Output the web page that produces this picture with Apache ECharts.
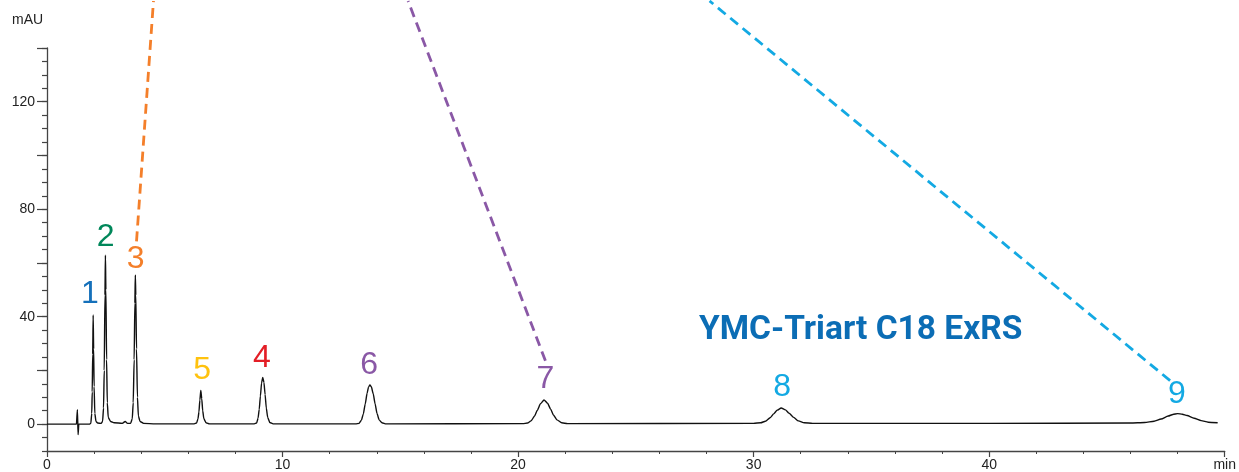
<!DOCTYPE html>
<html>
<head>
<meta charset="utf-8">
<script src="https://cdn.jsdelivr.net/npm/echarts@6/dist/echarts.min.js"></script>
<style>
html,body{margin:0;padding:0;background:#fff;}
#chart{width:1239px;height:472px;}
</style>
</head>
<body>
<div id="chart"></div>
<script>
// ---- Data ----
const traceTime = [
  0.0, 1.25, 1.29, 1.32, 1.35, 1.80, 1.86, 1.90, 1.92, 1.94, 1.96, 1.98, 2.00, 2.03, 2.08, 2.15,
  2.30, 2.36, 2.40, 2.43, 2.46, 2.48, 2.50, 2.53, 2.56, 2.60, 2.70, 2.85,
  3.20, 3.32, 3.42, 3.55, 3.62, 3.66, 3.70, 3.73, 3.75, 3.77, 3.80, 3.84, 3.88, 3.95, 4.10, 4.60,
  6.25, 6.35, 6.41, 6.45, 6.49, 6.53, 6.57, 6.61, 6.66, 6.75, 6.90,
  8.80, 8.90, 8.96, 9.01, 9.06, 9.11, 9.16, 9.21, 9.26, 9.31, 9.37, 9.46, 9.60,
  13.10, 13.25, 13.35, 13.43, 13.51, 13.59, 13.65, 13.71, 13.77, 13.85, 13.93, 14.01, 14.10, 14.22, 14.40,
  20.20, 20.40, 20.55, 20.70, 20.82, 20.95, 21.10, 21.25, 21.38, 21.50, 21.65, 21.85, 22.10,
  30.00, 30.30, 30.50, 30.70, 30.85, 31.00, 31.17, 31.35, 31.50, 31.70, 31.90, 32.15, 32.50,
  40.00, 46.00, 46.60, 47.00, 47.30, 47.60, 47.80, 48.00, 48.20, 48.40, 48.70, 49.00, 49.30, 49.70
];
const traceSignal = [
  0.0, 0.0, 5.4, -3.9, 0.0, 0.0, 0.3, 4.0, 12.0, 26.0, 40.6, 28.0, 14.0, 4.0, 1.0, 0.4,
  0.3, 1.0, 6.0, 20.0, 48.0, 62.9, 50.0, 24.0, 8.0, 2.5, 1.0, 0.5,
  0.3, 1.0, 0.3, 0.3, 2.0, 8.0, 24.0, 45.0, 55.5, 48.0, 28.0, 10.0, 3.0, 1.0, 0.3, 0.1,
  0.1, 0.4, 2.0, 4.5, 9.0, 12.5, 9.5, 5.0, 2.0, 0.5, 0.1,
  0.1, 0.4, 2.2, 5.5, 10.5, 15.3, 17.4, 15.5, 11.0, 6.0, 2.5, 0.6, 0.1,
  0.1, 0.3, 1.5, 3.8, 7.5, 11.5, 13.8, 14.6, 13.9, 11.3, 7.5, 4.0, 1.6, 0.5, 0.1,
  0.2, 0.4, 1.2, 3.0, 5.2, 7.6, 9.0, 7.8, 5.6, 3.4, 1.6, 0.5, 0.2,
  0.3, 0.5, 1.1, 2.4, 3.8, 5.2, 6.0, 5.3, 4.1, 2.5, 1.2, 0.5, 0.3,
  0.3, 0.4, 0.6, 1.1, 1.9, 3.0, 3.6, 3.9, 3.7, 3.2, 2.2, 1.3, 0.7, 0.5
];

const peakNames = ['1', '2', '3', '5', '4', '6', '7', '8', '9'];
const peakLabelTime = [1.82, 2.49, 3.76, 6.59, 9.12, 13.68, 21.16, 31.21, 47.97];
const peakLabelSignal = [48.2, 69.5, 61.5, 19.9, 24.4, 22.1, 16.9, 13.6, 11.3];

// Dashed leader lines: [time, signal] start and end
const leaderOrange = [[3.80, 68.0], [4.52, 157.5]];
const leaderPurple = [[21.16, 23.6], [15.33, 157.5]];
const leaderCyan = [[47.68, 16.2], [28.13, 157.5]];

const xTickValues = [0, 10, 20, 30, 40, 50];
const yLabelValues = [0, 40, 80, 120];
const yMajorTickValues = [0, 20, 40, 60, 80, 100, 120, 140];
const columnName = 'YMC-Triart C18 ExRS';
const yUnit = 'mAU';
const xUnit = 'min';

// ---- Styles ----
const peakColors = ['#1570BA', '#00875A', '#F47F2A', '#FFC20E', '#E31E26', '#8A58A6', '#8A58A6', '#13A9E3', '#13A9E3'];
const axisColor = '#444';

const traceData = traceTime.map((t, i) => [t, traceSignal[i]]);
const labelData = peakNames.map((n, i) => ({
  name: n,
  value: [peakLabelTime[i], peakLabelSignal[i]],
  label: { color: peakColors[i] }
}));

function leader(pts, color) {
  return {
    type: 'line', data: pts, symbol: 'none', clip: false, silent: true,
    lineStyle: { color: color, width: 2.8, type: [10, 6] }, z: 1
  };
}

const chart = echarts.init(document.getElementById('chart'), null, { renderer: 'canvas' });
chart.setOption({
  animation: false,
  backgroundColor: '#fff',
  grid: { left: 47, right: 8, top: 48, bottom: 21, containLabel: false },
  xAxis: {
    type: 'value', min: 0, max: 50, interval: 10,
    axisLine: { onZero: false, lineStyle: { color: axisColor, width: 1.3 } },
    axisTick: { show: true, length: 6, lineStyle: { color: axisColor, width: 1.2 } },
    minorTick: { show: true, splitNumber: 5, length: 3, lineStyle: { color: axisColor, width: 1 } },
    splitLine: { show: false },
    axisLabel: {
      showMaxLabel: true, showMinLabel: true, margin: 7,
      fontFamily: 'Liberation Sans', fontSize: 14, color: '#222',
      formatter: v => (v === 50 ? xUnit : String(v))
    }
  },
  yAxis: [
    {
      type: 'value', min: -10, max: 140, interval: 5, position: 'left',
      axisLine: { show: true, onZero: false, lineStyle: { color: axisColor, width: 1.3 } },
      axisTick: { show: true, length: 5, lineStyle: { color: axisColor, width: 1.2 } },
      splitLine: { show: false },
      axisLabel: {
        customValues: yLabelValues, margin: 12,
        fontFamily: 'Liberation Sans', fontSize: 14, color: '#222'
      }
    },
    {
      type: 'value', min: -10, max: 140, interval: 5, position: 'left',
      axisLine: { show: false },
      axisTick: { show: true, length: 10, customValues: yMajorTickValues, lineStyle: { color: axisColor, width: 1.2 } },
      splitLine: { show: false },
      axisLabel: { show: false }
    }
  ],
  graphic: [
    { type: 'text', left: 12, top: 13, style: { text: yUnit, font: '14px "Liberation Sans"', fill: '#222' } },
    { type: 'text', left: 699, top: 314, style: { text: columnName, font: 'bold 33.5px Roboto', fill: '#0B6DB5' } }
  ],
  series: [
    leader(leaderOrange, '#F47F2A'),
    leader(leaderPurple, '#8A58A6'),
    leader(leaderCyan, '#13A9E3'),
    {
      type: 'line', data: traceData, symbol: 'none', smooth: 0.2, smoothMonotone: 'x',
      lineStyle: { color: '#111', width: 1.4 }, z: 3, silent: true
    },
    {
      type: 'scatter', data: labelData, symbol: 'circle', symbolSize: 0,
      itemStyle: { color: 'rgba(0,0,0,0)', opacity: 1 }, z: 4, silent: true,
      label: {
        show: true, position: 'inside', formatter: p => p.name, opacity: 1,
        fontFamily: 'Liberation Sans', fontSize: 32, fontWeight: 'normal'
      }
    }
  ]
});
</script>
</body>
</html>
